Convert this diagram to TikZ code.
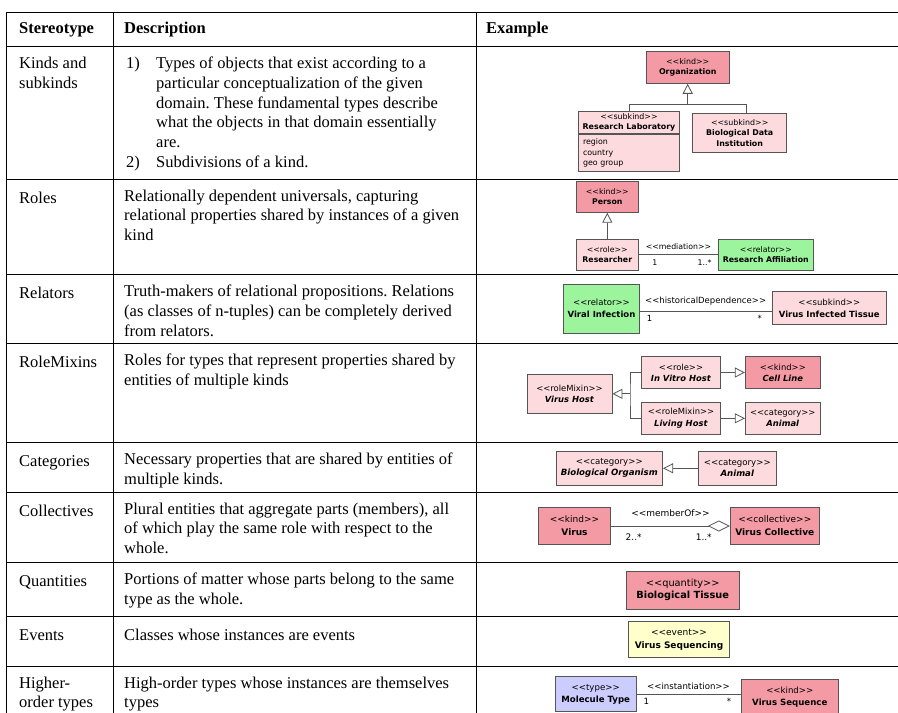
\documentclass[tikz,border=0pt]{standalone}
\usepackage{fontspec}
\setmainfont{Liberation Serif}
\newfontfamily\umlfont{DejaVu Sans}
\usepackage{tikz}
\usetikzlibrary{positioning, arrows.meta}
\frenchspacing

\definecolor{kindpink}{HTML}{F49AA4}
\definecolor{lightpink}{HTML}{FCDADD}
\definecolor{relgreen}{HTML}{9CF59C}
\definecolor{eventyellow}{HTML}{FFFFCC}
\definecolor{typeblue}{HTML}{CCCCFF}
\definecolor{umlline}{HTML}{555555}

\newcommand{\stereo}[1]{<\kern0pt<#1>\kern0pt>}
\newcommand{\cls}[2]{\stereo{#1}\\\textbf{#2}}
\newcommand{\clsit}[2]{\stereo{#1}\\\textbf{\itshape #2}}

\begin{document}
\begin{tikzpicture}[x=1pt, y=-1pt,
  rule/.style={line width=1pt},
  cell/.style={anchor=north west, inner sep=0pt, align=left,
    font=\fontsize{16.5}{19.7}\selectfont, execute at begin node=\strut},
  head/.style={cell, font=\bfseries\fontsize{16.5}{19.7}\selectfont},
  uml/.style 2 args={every node/.append style={font=\umlfont\fontsize{#1}{#2}\selectfont}},
  box/.style 2 args={minimum width=#1pt, minimum height=#2pt},
  cls/.style={draw=umlline, line width=0.8pt, inner sep=0pt, align=center},
  kind/.style={cls, fill=kindpink},
  sub/.style={cls, fill=lightpink},
  rel/.style={cls, fill=relgreen},
  evt/.style={cls, fill=eventyellow},
  typ/.style={cls, fill=typeblue},
  link/.style={draw=umlline, line width=0.8pt},
  gen/.style={link, -{Triangle[open, length=10pt, width=10pt]}},
  agg/.style={link, -{Diamond[open, length=22pt, width=11pt]}},
  mult/.style={inner sep=1pt}
]
\useasboundingbox (0,0) rectangle (898,713);

% --- table rules ---
\foreach \y in {12,46,179,274,343,442,492,562,616,666}
  \draw[rule] (6,\y) -- (898,\y);
\foreach \x in {6,113,476}
  \draw[rule] (\x,12) -- (\x,713);

% --- header ---
\node[head] (hstereo) at (19,19.5) {Stereotype};
\node[head] (hdesc) at (124,19.5) {Description};
\node[head] (hexample) at (486,19.5) {Example};

% --- left columns ---
\node[cell] (kinds) at (19,57) {Kinds and\\subkinds};
\node[cell] (kindsd) at (126,57) {\makebox[30pt][l]{1)}Types of objects that exist according to a\\
  \hspace*{30pt}particular conceptualization of the given\\
  \hspace*{30pt}domain. These fundamental types describe\\
  \hspace*{30pt}what the objects in that domain essentially\\
  \hspace*{30pt}are.\\
  \makebox[30pt][l]{2)}Subdivisions of a kind.};
\node[cell] (roles) at (19,189.5) {Roles};
\node[cell] (rolesd) at (124,189.5) {Relationally dependent universals, capturing\\relational properties shared by instances of a given\\kind};
\node[cell] (relators) at (19,285) {Relators};
\node[cell] (relatorsd) at (124,285) {Truth-makers of relational propositions. Relations\\(as classes of n-tuples) can be completely derived\\from relators.};
\node[cell] (mixins) at (19,354) {RoleMixins};
\node[cell] (mixinsd) at (124,354) {Roles for types that represent properties shared by\\entities of multiple kinds};
\node[cell] (cats) at (19,452.5) {Categories};
\node[cell] (catsd) at (124,452.5) {Necessary properties that are shared by entities of\\multiple kinds.};
\node[cell] (colls) at (19,502.5) {Collectives};
\node[cell] (collsd) at (124,502.5) {Plural entities that aggregate parts (members), all\\of which play the same role with respect to the\\whole.};
\node[cell] (quants) at (19,572.5) {Quantities};
\node[cell] (quantsd) at (124,572.5) {Portions of matter whose parts belong to the same\\type as the whole.};
\node[cell] (events) at (19,626.5) {Events};
\node[cell] (eventsd) at (124,626.5) {Classes whose instances are events};
\node[cell] (higher) at (19,676.5) {Higher-\\order types};
\node[cell] (higherd) at (124,676.5) {High-order types whose instances are themselves\\types};

% --- kinds and subkinds ---
\begin{scope}[uml={7.9}{10.6}]
\node[kind, box={83.3}{32.3}] (org) at (687.7,67.2) {\cls{kind}{Organization}};
\node[sub, box={100.6}{21.6}] (rl) at (629,122.5) {\cls{subkind}{Research Laboratory}};
\node[sub, box={100.6}{37.7}, anchor=north, align=left, text width=92pt] (rlat) at (rl.south) {region\\country\\geo group};
\node[sub, box={94}{39}] (bdi) at (739.7,132.8) {\stereo{subkind}\\\textbf{Biological Data}\\\textbf{Institution}};
\coordinate (orgjoin) at (687.7,104.3);
\draw[link] (rl.north) |- (orgjoin);
\draw[link] ([xshift=7pt]bdi.north) |- (orgjoin);
\draw[gen] (orgjoin) -- (org.south);
\end{scope}

% --- roles ---
\begin{scope}[uml={7.8}{10.3}]
\node[kind, box={62.7}{31}] (person) at (607.3,196.8) {\cls{kind}{Person}};
\node[sub, box={62.7}{31.3}] (res) at (607.3,254.7) {\cls{role}{Researcher}};
\node[rel, box={95}{31.3}] (raff) at (765.8,254.7) {\cls{relator}{Research Affiliation}};
\draw[gen] (res) -- (person);
\draw[link] (res) -- node[above=4pt, mult] (medl) {\stereo{mediation}}
  node[pos=0.2, below=4pt, mult] (med1) {1}
  node[pos=0.83, below=4pt, mult] (med2) {1..*} (raff);
\end{scope}

% --- relators ---
\begin{scope}[uml={8.5}{11.7}]
\node[rel, box={75.6}{49}] (vinf) at (601.5,308.5) {\cls{relator}{Viral Infection}};
\node[sub, box={114.7}{33.4}] (vit) at (829.3,308) {\cls{subkind}{Virus Infected Tissue}};
\draw[link] ([yshift=-3pt]vinf.east) -- node[above=4.5pt, mult] (hdl) {\stereo{historicalDependence}}
  node[pos=0.075, below=2.7pt, mult] (hd1) {1}
  node[pos=0.91, below=2.7pt, mult] (hd2) {*} ([yshift=-3pt]vinf.east -| vit.west);
\end{scope}

% --- role mixins ---
\begin{scope}[uml={8.4}{11.2}]
\node[sub, box={85}{38.3}] (vh) at (569.5,393.8) {\clsit{roleMixin}{Virus Host}};
\node[sub, box={78.6}{32.4}] (ivh) at (681,372.5) {\clsit{role}{In Vitro Host}};
\node[kind, box={75}{32.4}] (cl) at (782.8,372.5) {\clsit{kind}{Cell Line}};
\node[sub, box={78.6}{32.7}] (lh) at (681,418.3) {\clsit{roleMixin}{Living Host}};
\node[sub, box={75}{32.7}] (ani) at (782.8,418.3) {\clsit{category}{Animal}};
\coordinate (vhjoin) at (630,393.8);
\draw[link] (ivh.west) -| (vhjoin) |- (lh.west);
\draw[gen] (vhjoin) -- (vh.east);
\draw[gen] (ivh) -- (cl);
\draw[gen] (lh) -- (ani);
\end{scope}

% --- categories ---
\begin{scope}[uml={8.6}{11}]
\node[sub, box={106.7}{34}] (bo) at (609.3,468.3) {\clsit{category}{Biological Organism}};
\node[sub, box={77.3}{34}] (ani2) at (737.3,468.3) {\clsit{category}{Animal}};
\draw[gen] (ani2) -- (bo);
\end{scope}

% --- collectives ---
\begin{scope}[uml={9}{13}]
\node[kind, box={72.4}{36.6}] (vir) at (574.5,526) {\cls{kind}{Virus}};
\node[kind, box={89}{36.6}] (vcol) at (774.8,526) {\cls{collective}{Virus Collective}};
\draw[agg] (vir) -- node[above=8pt, mult] (mol) {\stereo{memberOf}}
  node[pos=0.19, below=6.3pt, mult] (mo1) {2..*}
  node[pos=0.78, below=6.3pt, mult] (mo2) {1..*} (vcol);
\end{scope}

% --- quantities ---
\begin{scope}[uml={9.8}{12}]
\node[kind, box={113.3}{38.7}] (bt) at (682.7,590.3) {\cls{quantity}{Biological Tissue}};
\end{scope}

% --- events ---
\begin{scope}[uml={9}{13.4}]
\node[evt, box={100.6}{36}] (vs) at (679,639.7) {\cls{event}{Virus Sequencing}};
\end{scope}

% --- higher-order types ---
\begin{scope}[uml={8.6}{11.8}]
\node[typ, box={80.7}{35}] (mt) at (595.7,694.2) {\cls{type}{Molecule Type}};
\node[kind, box={97.7}{35}] (vseq) at (789.8,696.8) {\cls{kind}{Virus Sequence}};
\draw[link] (mt.east) -- node[above=3.6pt, mult] (inl) {\stereo{instantiation}}
  node[pos=0.095, below=3pt, mult] (in1) {1}
  node[pos=0.89, below=3pt, mult] (in2) {*} (mt.east -| vseq.west);
\end{scope}

\end{tikzpicture}
\end{document}
